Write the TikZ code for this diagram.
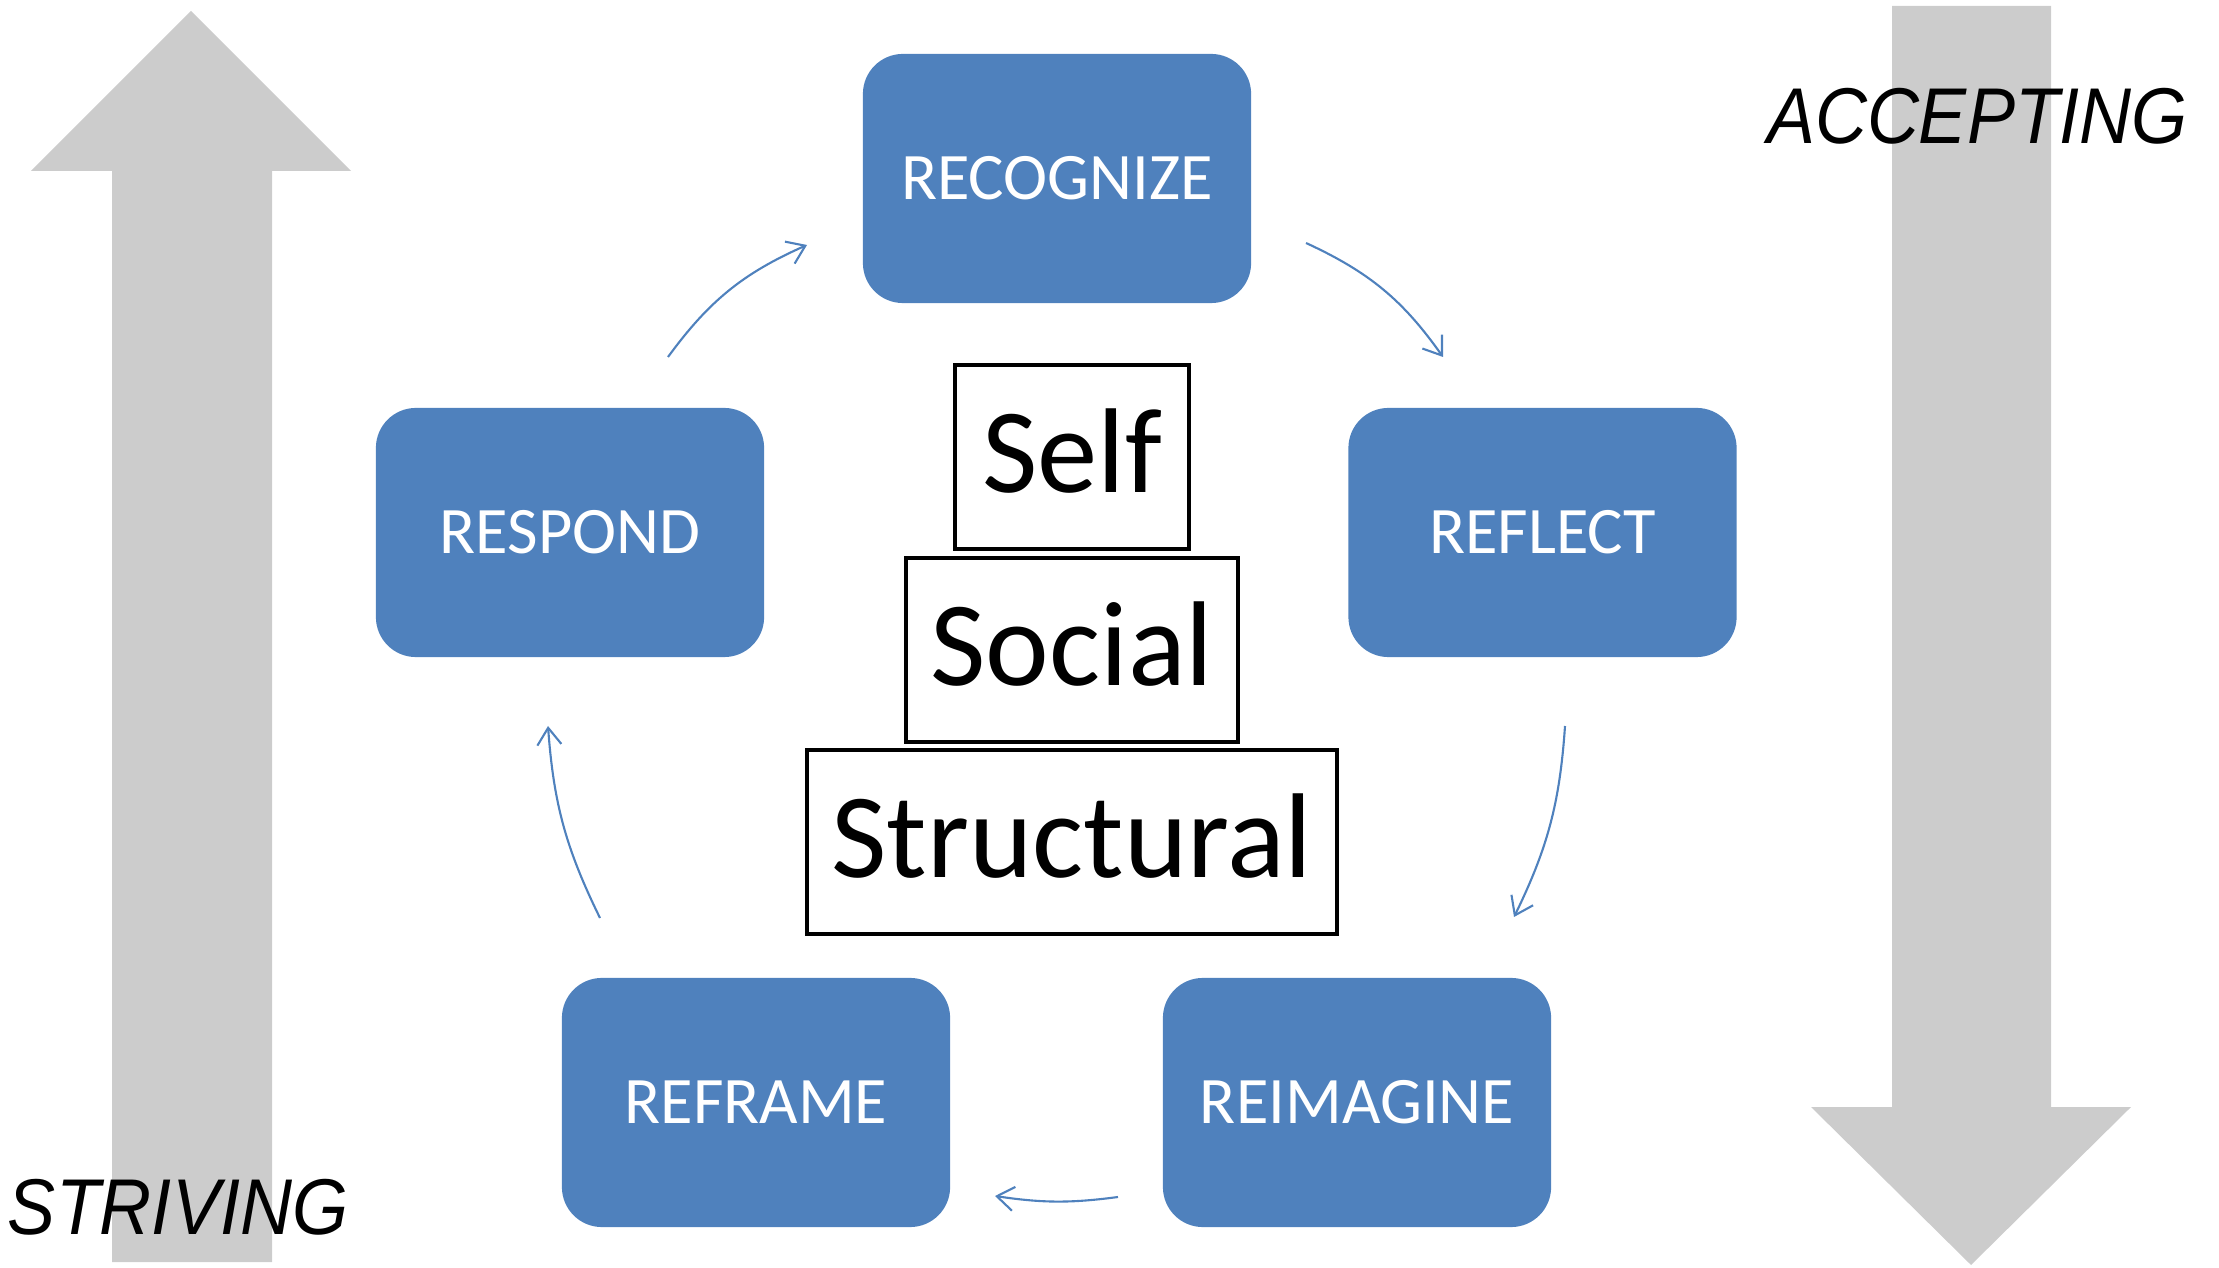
\documentclass[tikz,border=0pt]{standalone}
\usepackage{fontspec}
\setmainfont{Carlito}
\newfontfamily\sidefont{Liberation Sans}
\usetikzlibrary{arrows.meta}
\definecolor{stepblue}{HTML}{4F81BD}
\definecolor{bandgray}{HTML}{CCCCCC}
\tikzset{
  stage/.style={fill=stepblue, rounded corners=0.4cm, minimum width=3.88cm,
    minimum height=2.49cm, text=white, font=\fontsize{18.9}{22}\selectfont},
  level/.style={draw=black, line width=1.1pt, inner sep=0pt, text depth=0.12cm,
    font=\fontsize{34.3}{40}\selectfont},
  cycle/.style={draw=stepblue, line width=0.6pt,
    -{Straight Barb[length=1.7mm,width=2.4mm]}},
  side/.style={anchor=base, font=\sidefont\itshape\fontsize{22.5}{26}\selectfont},
}
\newcommand{\narrow}[1]{\scalebox{0.91}[1]{#1}}
\begin{document}
\begin{tikzpicture}[x=0.01cm, y=-0.01cm]
      \useasboundingbox (0,0) rectangle (2219,1268);
      % big gray arrows
      \fill[bandgray] (191,11) -- (351,171) -- (272,171) -- (272,1262)
        -- (112,1262) -- (112,171) -- (31,171) -- cycle;
      \fill[bandgray] (1892,6) -- (2051,6) -- (2051,1107) -- (2131,1107)
        -- (1971,1265) -- (1811,1107) -- (1892,1107) -- cycle;
      \node[side] (accepting) at (1977,144) {\narrow{ACCEPTING}};
      \node[side] (striving) at (178,1234) {\narrow{STRIVING}};
      % stages
      \node[stage] (recognize) at (1057,178.5) {RECOGNIZE};
      \node[stage] (reflect) at (1542.5,532.5) {REFLECT};
      \node[stage] (reimagine) at (1357,1102.5) {REIMAGINE};
      \node[stage] (reframe) at (756,1102.5) {REFRAME};
      \node[stage] (respond) at (570,532.5) {RESPOND};
      % levels
      \node[level, minimum width=2.34cm, minimum height=1.84cm] (self)
        at (1072,457) {Self};
      \node[level, minimum width=3.32cm, minimum height=1.84cm] (social)
        at (1072,650) {Social};
      \node[level, minimum width=5.30cm, minimum height=1.84cm] (structural)
        at (1072,842) {Structural};
      % arrow ends
      \coordinate (a0) at (668,357);
      \coordinate (a1) at (807,245);
      \coordinate (b0) at (1306,243);
      \coordinate (b1) at (1443,357);
      \coordinate (c0) at (1565,726);
      \coordinate (c1) at (1514,917);
      \coordinate (d0) at (1118,1197);
      \coordinate (d1) at (995,1196);
      \coordinate (e0) at (600,918);
      \coordinate (e1) at (548,726);
      \begin{scope}[cycle]
        \draw (a0) to[bend left=15] (a1);
        \draw (b0) to[bend left=15] (b1);
        \draw (c0) to[bend left=11] (c1);
        \draw (d0) to[bend left=8] (d1);
        \draw (e0) to[bend left=11] (e1);
      \end{scope}
    \end{tikzpicture}
\end{document}
